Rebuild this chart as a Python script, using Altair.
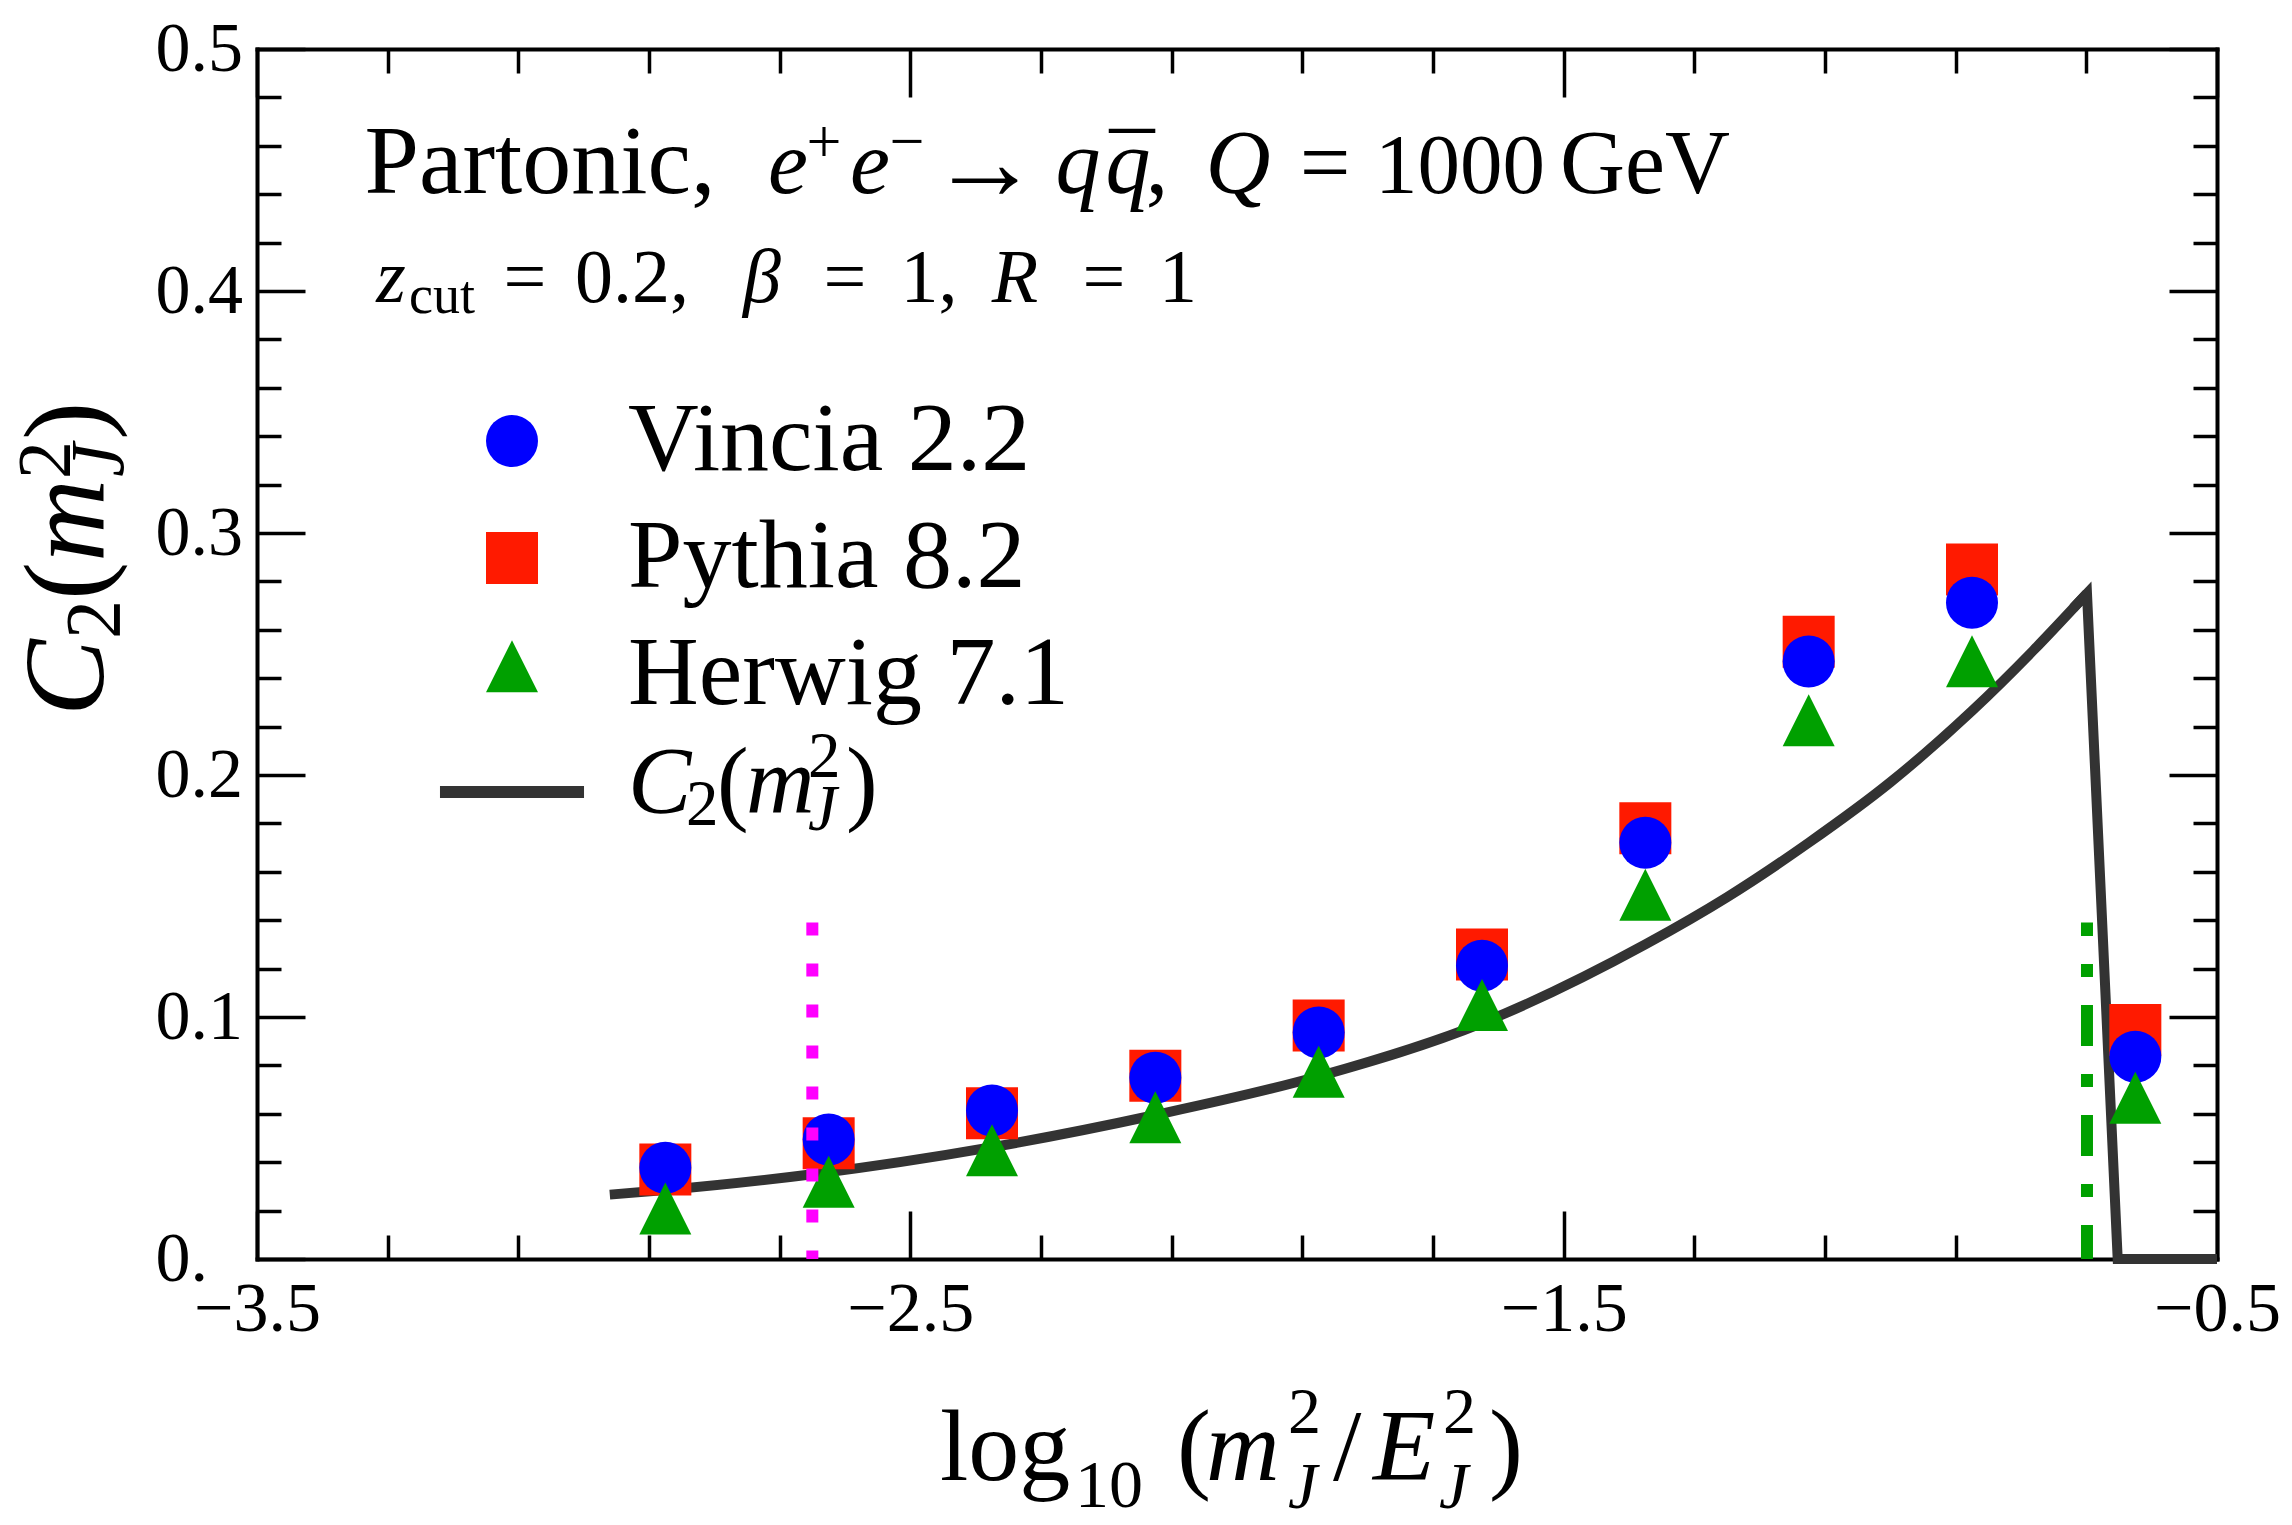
import altair as alt
import pandas as pd

SERIF = "Liberation Serif"

# Bin centres of log10(m_J^2 / E_J^2)
bin_centres = [-2.875, -2.625, -2.375, -2.125, -1.875, -1.625, -1.375, -1.125, -0.875, -0.625]

# Parton-shower values of C2(m_J^2) in each bin
vincia = [0.0377, 0.0494, 0.0614, 0.0749, 0.0936, 0.1212, 0.1720, 0.2469, 0.2712, 0.0836]
pythia = [0.0370, 0.0478, 0.0602, 0.0757, 0.0965, 0.1258, 0.1780, 0.2551, 0.2849, 0.0946]
herwig = [0.0173, 0.0283, 0.0414, 0.0550, 0.0738, 0.1014, 0.1469, 0.2190, 0.2434, 0.0631]

# Analytic C2(m_J^2): smooth rising part
curve_x = [-2.96, -2.875, -2.65, -2.375, -2.125, -1.875, -1.625, -1.375, -1.25,
           -1.125, -1.0, -0.875, -0.781, -0.699]
curve_y = [0.0266, 0.0285, 0.0350, 0.0462, 0.0595, 0.0755, 0.0975, 0.1300, 0.1495,
           0.1720, 0.1970, 0.2265, 0.2515, 0.2750]
# Analytic C2(m_J^2): sharp cut-off at the end of the spectrum
edge_x = [-0.72, -0.699, -0.652, -0.5]
edge_y = [0.2690, 0.2750, 0.0, 0.0]

# Vertical marker lines
magenta_x = [-2.65]
zcut_x = [-0.699]
marker_top = [0.139]

series_names = ["Vincia 2.2", "Pythia 8.2", "Herwig 7.1", "C2"]
series_colors = ["#0000ff", "#ff1a00", "#00a000", "#333333"]
series_shapes = [
    "circle",
    "square",
    "M0,-1.333L1,0.667L-1,0.667Z",
    "M-2.77,-0.23L2.77,-0.23L2.77,0.23L-2.77,0.23Z",
]

W, H = 1960, 1210

# squares first, circles on top, triangles on top of both
points = pd.concat([
    pd.DataFrame({"series": "Pythia 8.2", "x": bin_centres, "y": pythia}),
    pd.DataFrame({"series": "Vincia 2.2", "x": bin_centres, "y": vincia}),
    pd.DataFrame({"series": "Herwig 7.1", "x": bin_centres, "y": herwig}),
], ignore_index=True)
curve = pd.DataFrame({"x": curve_x, "y": curve_y})
edge = pd.DataFrame({"x": edge_x, "y": edge_y})
magenta = pd.DataFrame({"x": magenta_x, "top": marker_top, "bottom": [0.0]})
zcut = pd.DataFrame({"x": zcut_x, "top": marker_top, "bottom": [0.0]})
one = pd.DataFrame({"k": [0]})

xs = alt.Scale(domain=[-3.5, -0.5], nice=False, zero=False)
ys = alt.Scale(domain=[0, 0.5], nice=False, zero=False)

x_major = [-3.5, -2.5, -1.5, -0.5]
x_minor = [round(-3.5 + 0.2 * i, 1) for i in range(1, 15) if i % 5]
y_major = [0, 0.1, 0.2, 0.3, 0.4, 0.5]
y_minor = [round(0.02 * i, 2) for i in range(1, 25) if i % 5]

FRAME = dict(domain=True, domainColor="black", domainWidth=4, domainCap="square")


def tick_axis(orient, values, size, offset, frame=False):
    # label-free axis used for inward-pointing tick marks (and the far frame edges)
    extra = FRAME if frame else dict(domain=False)
    return alt.Axis(orient=orient, values=values, tickSize=size, tickWidth=3.5,
                    tickColor="black", labels=False, grid=False,
                    title=None, offset=offset, **extra)


x_label_axis = alt.Axis(orient="bottom", values=x_major, format=".1f", labelFont=SERIF,
                        labelFontSize=70, labelColor="black", labelPadding=16,
                        ticks=False, tickSize=0, grid=False, title=None,
                        labelFlush=False, labelOverlap=False, labelBound=False, **FRAME)
y_label_axis = alt.Axis(orient="left", values=y_major,
                        labelExpr="datum.value == 0 ? '0.' : format(datum.value, '.1f')",
                        labelFont=SERIF, labelFontSize=70, labelColor="black",
                        labelAlign="left", labelBaseline="middle", labelPadding=102,
                        ticks=False, tickSize=0, grid=False, title=None,
                        labelFlush=False, labelOverlap=False, labelBound=False, **FRAME)

legend = alt.Legend(orient="none", legendX=206, legendY=343, title=None,
                    labelFont=SERIF, labelFontSize=98, labelColor="black",
                    labelOffset=67, labelLimit=2000, rowPadding=19, padding=0,
                    symbolSize=2704, symbolStrokeWidth=0, symbolOpacity=1,
                    labelExpr="datum.label == 'C2' ? ' ' : datum.label")

curve_layer = alt.Chart(curve).mark_line(
    color="#333333", strokeWidth=10, interpolate="monotone", strokeCap="butt"
).encode(
    x=alt.X("x:Q", scale=xs, axis=x_label_axis),
    y=alt.Y("y:Q", scale=ys, axis=y_label_axis),
)

edge_layer = alt.Chart(edge).mark_line(
    color="#333333", strokeWidth=10, strokeJoin="miter", strokeMiterLimit=10, strokeCap="butt"
).encode(
    x=alt.X("x:Q", scale=xs, axis=tick_axis("top", x_major, 48, -H)),
    y=alt.Y("y:Q", scale=ys, axis=tick_axis("right", y_major, 48, -W)),
)

point_layer = alt.Chart(points).mark_point(
    filled=True, opacity=1, size=2704, strokeWidth=0
).encode(
    x=alt.X("x:Q", scale=xs, axis=tick_axis("top", x_minor, 24, -H)),
    y=alt.Y("y:Q", scale=ys, axis=tick_axis("right", y_minor, 24, -W)),
    color=alt.Color("series:N", scale=alt.Scale(domain=series_names, range=series_colors),
                    legend=legend),
    shape=alt.Shape("series:N", scale=alt.Scale(domain=series_names, range=series_shapes),
                    legend=legend),
)

magenta_layer = alt.Chart(magenta).mark_rule(
    color="#ff00ff", strokeWidth=12, strokeDash=[13, 28], strokeCap="butt"
).encode(
    x=alt.X("x:Q", scale=xs, axis=tick_axis("bottom", x_major, 48, -H, frame=True)),
    y=alt.Y("top:Q", scale=ys, axis=tick_axis("left", y_major, 48, -W, frame=True)),
    y2="bottom:Q",
)

zcut_layer = alt.Chart(zcut).mark_rule(
    color="#00a000", strokeWidth=12, strokeDash=[41, 28, 13, 28], strokeDashOffset=7,
    strokeCap="butt"
).encode(
    x=alt.X("x:Q", scale=xs, axis=tick_axis("bottom", x_minor, 24, -H)),
    y=alt.Y("bottom:Q", scale=ys, axis=tick_axis("left", y_minor, 24, -W)),
    y2="top:Q",
)


def piece(s, x, y, size, italic=False, align="left", angle=None):
    kw = dict(text=s, font=SERIF, fontSize=size,
              fontStyle="italic" if italic else "normal",
              align=align, baseline="alphabetic", color="black")
    if angle is not None:
        kw["angle"] = angle
    return alt.Chart(one).mark_text(**kw).encode(x=alt.value(x), y=alt.value(y))


texts = [
    # header line 1: Partonic, e+e- -> q qbar, Q = 1000 GeV
    piece("Partonic,", 283, 144, 98, align="center"),
    piece("e", 531, 144, 90, italic=True, align="center"),
    piece("+", 567, 113, 62, align="center"),
    piece("e", 613, 144, 90, italic=True, align="center"),
    piece("\u2212", 650, 113, 62, align="center"),
    piece("\u2192", 728, 150, 110, align="center"),
    piece("q", 821, 144, 90, italic=True, align="center"),
    piece("q", 871, 144, 90, italic=True, align="center"),
    piece("\u00af", 875, 149, 90, align="center"),
    piece(",", 900, 144, 90, align="center"),
    piece("Q", 981, 144, 90, italic=True, align="center"),
    piece("=", 1068, 144, 90, align="center"),
    piece("1000", 1203, 144, 85, align="center"),
    piece("GeV", 1388, 144, 90, align="center"),
    # header line 2: z_cut = 0.2, beta = 1, R = 1
    piece("z", 134, 253, 76, italic=True, align="center"),
    piece("cut", 185, 264, 54, align="center"),
    piece("=", 268, 253, 76, align="center"),
    piece("0.2,", 375, 253, 76, align="center"),
    piece("\u03b2", 505, 253, 76, italic=True, align="center"),
    piece("=", 588, 253, 76, align="center"),
    piece("1,", 672, 253, 76, align="center"),
    piece("R", 758, 253, 76, italic=True, align="center"),
    piece("=", 847, 253, 76, align="center"),
    piece("1", 921, 253, 76, align="center"),
    # legend label of the analytic curve: C2(m_J^2)
    piece("C", 371, 764, 95, italic=True),
    piece("2", 429, 776, 65),
    piece("(", 460, 764, 95),
    piece("m", 489, 764, 95, italic=True),
    piece("2", 551, 728, 65),
    piece("J", 551, 781, 65, italic=True),
    piece(")", 589, 764, 95),
    # x-axis title: log10(m_J^2 / E_J^2)
    piece("log", 683, 1431, 102),
    piece("10", 818, 1458, 68),
    piece("(", 920, 1431, 102),
    piece("m", 949, 1431, 102, italic=True),
    piece("2", 1031, 1384, 66),
    piece("J", 1031, 1459, 66, italic=True),
    piece("/", 1076, 1431, 102),
    piece("E", 1116, 1431, 102, italic=True),
    piece("2", 1186, 1384, 66),
    piece("J", 1182, 1459, 66, italic=True),
    piece(")", 1232, 1431, 102),
    # y-axis title: C2(m_J^2), rotated
    piece("C", -154, 667, 115, italic=True, angle=270),
    piece("2", -138, 590, 78, angle=270),
    piece("(", -154, 551, 115, angle=270),
    piece("m", -154, 513, 115, italic=True, angle=270),
    piece("2", -187, 430, 76, angle=270),
    piece("J", -134, 428, 76, italic=True, angle=270),
    piece(")", -154, 391, 115, angle=270),
]

chart = alt.layer(
    curve_layer, edge_layer, point_layer, magenta_layer, zcut_layer, *texts
).properties(
    width=W, height=H,
    autosize=alt.AutoSizeParams(type="none"),
    padding={"left": 257, "top": 49, "right": 75, "bottom": 266},
).configure_view(
    strokeWidth=0
).configure(
    background="white"
)

chart.save("out.html", embed_options={"renderer": "svg", "actions": False})
